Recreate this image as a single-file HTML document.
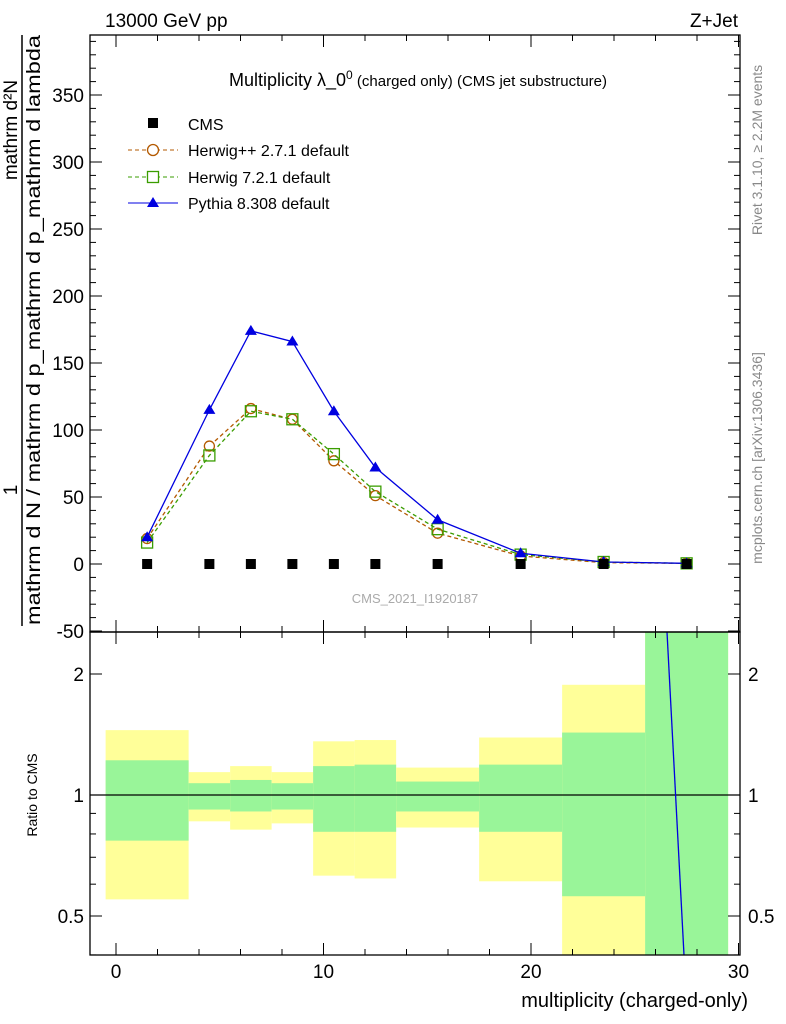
<!DOCTYPE html>
<html><head><meta charset="utf-8"><style>
body{margin:0;background:#fff;}
svg{display:block;font-family:"Liberation Sans",sans-serif;}
</style></head><body>
<svg id="c" width="786" height="1024" viewBox="0 0 786 1024" xmlns="http://www.w3.org/2000/svg">
<g id="bands"></g>
<g id="marks"></g>
<rect x="90" y="35" width="650" height="597" fill="none" stroke="#000" stroke-width="1.3"/>
<rect x="90" y="632" width="650" height="323" fill="none" stroke="#000" stroke-width="1.3"/>
<g id="ticks"></g>
<text x="105" y="27" font-size="19">13000 GeV pp</text>
<text x="738" y="27" font-size="19" text-anchor="end">Z+Jet</text>
<text x="418" y="86" font-size="18" text-anchor="middle">Multiplicity λ_0<tspan dy="-7" font-size="12">0</tspan><tspan dy="7" font-size="15"> (charged only) (CMS jet substructure)</tspan></text>
<g>
<rect x="148" y="118" width="10" height="10" fill="#000"/>
<text x="188" y="130" font-size="16">CMS</text>
<line x1="128" y1="150" x2="178" y2="150" stroke="#b35900" stroke-dasharray="4,3"/>
<circle cx="153" cy="150" r="5.5" fill="#fff" stroke="#b35900" stroke-width="1.3"/>
<text x="188" y="156" font-size="16">Herwig++ 2.7.1 default</text>
<line x1="128" y1="177" x2="178" y2="177" stroke="#3a9d00" stroke-dasharray="4,3"/>
<rect x="147.5" y="171.5" width="11" height="11" fill="#fff" stroke="#3a9d00" stroke-width="1.3"/>
<text x="188" y="183" font-size="16">Herwig 7.2.1 default</text>
<line x1="128" y1="203" x2="178" y2="203" stroke="#0000e0"/>
<polygon points="153,197 159,207 147,207" fill="#0000e0"/>
<text x="188" y="209" font-size="16">Pythia 8.308 default</text>
</g>
<text x="415" y="603" font-size="13" fill="#aaa" text-anchor="middle">CMS_2021_I1920187</text>
<g>
<line x1="22" y1="35" x2="22" y2="626" stroke="#000" stroke-width="1.5"/>
<text transform="translate(17,130) rotate(-90)" font-size="19" text-anchor="middle">mathrm d²N</text>
<text transform="translate(17,490) rotate(-90)" font-size="19" text-anchor="middle">1</text>
<text transform="translate(40,330) rotate(-90)" font-size="19" text-anchor="middle" textLength="590" lengthAdjust="spacingAndGlyphs">mathrm d N / mathrm d p_mathrm d p_mathrm d lambda</text>
</g>
<text transform="translate(37,795) rotate(-90)" font-size="14" text-anchor="middle">Ratio to CMS</text>
<text x="748" y="1007" font-size="20" text-anchor="end">multiplicity (charged-only)</text>
<text transform="translate(762,150) rotate(-90)" font-size="14" fill="#888" text-anchor="middle">Rivet 3.1.10, ≥ 2.2M events</text>
<text transform="translate(762,458) rotate(-90)" font-size="14" fill="#888" text-anchor="middle">mcplots.cern.ch [arXiv:1306.3436]</text>
</svg>
<script>
const xCenters=[1.5,4.5,6.5,8.5,10.5,12.5,15.5,19.5,23.5,27.5];
const binEdges=[-0.5,3.5,5.5,7.5,9.5,11.5,13.5,17.5,21.5,25.5,29.5];
const cmsVals=[0,0,0,0,0,0,0,0,0,0];
const herwigppVals=[19,88,116,108,77,51,23,6,1,0.5];
const herwig7Vals=[16,81,114,108,82,54,26,7,1.5,0.5];
const pythiaVals=[20,115,174,166,114,72,33,8,1.5,0.5];
const yellowHi=[1.45,1.14,1.18,1.14,1.36,1.37,1.17,1.39,1.88,3];
const yellowLo=[0.55,0.86,0.82,0.85,0.63,0.62,0.83,0.61,0.3,0.3];
const greenHi=[1.22,1.07,1.09,1.07,1.18,1.19,1.08,1.19,1.43,3];
const greenLo=[0.77,0.92,0.91,0.92,0.81,0.81,0.91,0.81,0.56,0.3];
const yTicks=[-50,0,50,100,150,200,250,300,350];
const xTicks=[0,10,20,30];
const rTicks=[0.5,1,2];
const NS="http://www.w3.org/2000/svg";
const X=v=>116+(v)*20.75;
const Y=v=>564-v*1.34;
const R=v=>Math.min(955,Math.max(632,795-Math.log2(v)*121));
function mk(t,a,p){const e=document.createElementNS(NS,t);for(const k in a)e.setAttribute(k,a[k]);p.appendChild(e);return e;}
const bands=document.getElementById('bands'),marks=document.getElementById('marks'),ticks=document.getElementById('ticks');
for(let i=0;i<xCenters.length;i++){
 const x0=X(binEdges[i]),x1=Math.min(729,X(binEdges[i+1]));
 const yb=mk('rect',{x:x0,y:R(yellowHi[i]),width:x1-x0,height:R(yellowLo[i])-R(yellowHi[i]),fill:'#ffff99'},bands);
 
 
 const gb=mk('rect',{x:x0,y:R(greenHi[i]),width:x1-x0,height:R(greenLo[i])-R(greenHi[i]),fill:'#99f599'},bands);
 
 
}
const one=mk('line',{x1:90,x2:740,y1:R(1),y2:R(1),stroke:'#000','stroke-width':1.2},bands);


const rl=mk('line',{x1:667,y1:632,x2:684,y2:955,stroke:'#0000e0','stroke-width':1.3},bands);


function series(vals,col,dash,name,shape){
 const pts=xCenters.map((x,i)=>X(x)+','+Y(vals[i])).join(' ');
 const pl=mk('polyline',{points:pts,fill:'none',stroke:col,'stroke-width':1.3,'stroke-dasharray':dash},marks);
 
 
 xCenters.forEach((x,i)=>{const cx=X(x),cy=Y(vals[i]);let m;
  if(shape==='c')m=mk('circle',{cx:cx,cy:cy,r:5,fill:'#fff',stroke:col,'stroke-width':1.3},marks);
  else if(shape==='s')m=mk('rect',{x:cx-5.5,y:cy-5.5,width:11,height:11,fill:'none',stroke:col,'stroke-width':1.3},marks);
  else m=mk('polygon',{points:`${cx},${cy-6} ${cx+6},${cy+4} ${cx-6},${cy+4}`,fill:col},marks);
  
  });
}
series(herwigppVals,'#b35900','4,3','herwigpp','c');
series(herwig7Vals,'#3a9d00','4,3','herwig7','s');
series(pythiaVals,'#0000e0','none','pythia','t');
xCenters.forEach((x,i)=>{const m=mk('rect',{x:X(x)-5,y:Y(cmsVals[i])-5,width:10,height:10,fill:'#000'},marks);
 
 });
function tk(x1,y1,x2,y2){mk('line',{x1:x1,y1:y1,x2:x2,y2:y2,stroke:'#000','stroke-width':1},ticks);}
for(let v=-50;v<=390;v+=10){const y=Y(v);if(y<35||y>632)continue;const L=v%50===0?12:6;tk(90,y,90+L,y);tk(740,y,740-L,y);}
yTicks.forEach(v=>{const t=mk('text',{x:84,y:Y(v)+7,'font-size':19,'text-anchor':'end'},ticks);t.textContent=v;
 
 });
for(let v=-1;v<=30;v+=1){const x=X(v);if(x<90||x>740)continue;const L=v%10===0?12:(v%2===0?6:0);if(!L)continue;
 tk(x,632,x,632-L);tk(x,35,x,35+L);tk(x,955,x,955-L);tk(x,632,x,632+L);}
xTicks.forEach(v=>{const t=mk('text',{x:X(v),y:978,'font-size':19,'text-anchor':'middle'},ticks);t.textContent=v;
 
 });
[0.4,0.5,0.6,0.7,0.8,0.9,1,2].forEach(v=>{const y=R(v);const L=[0.5,1,2].includes(v)?12:6;tk(90,y,90+L,y);tk(740,y,740-L,y);});
rTicks.forEach(v=>{const a=mk('text',{x:84,y:R(v)+7,'font-size':19,'text-anchor':'end'},ticks);a.textContent=v;
 
 
 const b=mk('text',{x:748,y:R(v)+7,'font-size':19},ticks);b.textContent=v;
 
 });
</script>
</body></html>
